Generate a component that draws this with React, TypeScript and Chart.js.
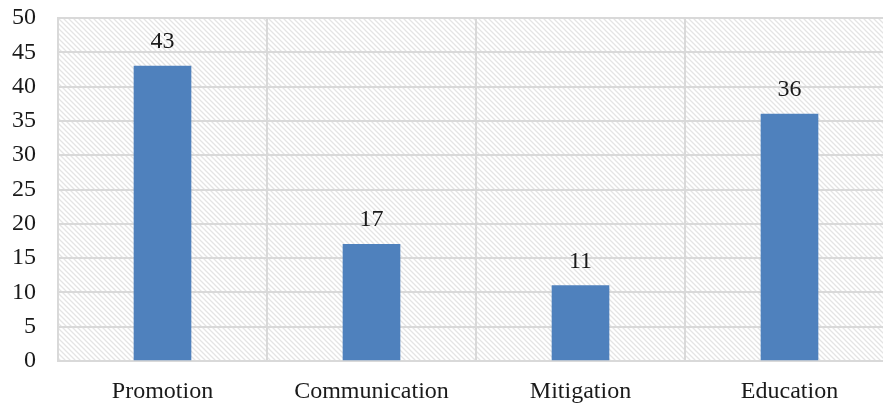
import React, { useEffect, useRef } from "react";
import { Chart, registerables } from "chart.js";

Chart.register(...registerables);

const categories = ["Promotion", "Communication", "Mitigation", "Education"];
const values = [43, 17, 11, 36];
const yTicks = [0, 5, 10, 15, 20, 25, 30, 35, 40, 45, 50];

function makePattern(): CanvasPattern | string {
  const s = 5;
  const c = document.createElement("canvas");
  c.width = s;
  c.height = s;
  const g = c.getContext("2d");
  if (!g) return "#ffffff";
  g.fillStyle = "#ffffff";
  g.fillRect(0, 0, s, s);
  g.strokeStyle = "#e4e4e4";
  g.lineWidth = 1.3;
  g.beginPath();
  g.moveTo(-1, -1);
  g.lineTo(s + 1, s + 1);
  g.moveTo(-1, s - 1);
  g.lineTo(1, s + 1);
  g.moveTo(s - 1, -1);
  g.lineTo(s + 1, 1);
  g.stroke();
  const p = g.createPattern(c, "repeat");
  return p || "#ffffff";
}

const hatchPlugin = {
  id: "hatchBg",
  beforeDraw(chart: any) {
    const { ctx, chartArea } = chart;
    if (!chartArea) return;
    ctx.save();
    ctx.fillStyle = makePattern();
    ctx.fillRect(chartArea.left, chartArea.top, chartArea.right - chartArea.left, chartArea.bottom - chartArea.top);
    ctx.restore();
  },
};

const labelPlugin = {
  id: "valueLabels",
  afterDatasetsDraw(chart: any) {
    const { ctx } = chart;
    const meta = chart.getDatasetMeta(0);
    ctx.save();
    ctx.font = '24px "Liberation Serif"';
    ctx.fillStyle = "#1a1a1a";
    ctx.textAlign = "center";
    ctx.textBaseline = "alphabetic";
    meta.data.forEach((el: any, i: number) => {
      ctx.fillText(String(values[i]), el.x, el.y - 18);
    });
    ctx.restore();
  },
};

export default function App() {
  const ref = useRef<HTMLCanvasElement | null>(null);
  useEffect(() => {
    if (!ref.current) return;
    const chart = new Chart(ref.current, {
      type: "bar",
      data: {
        labels: categories,
        datasets: [
          {
            data: values,
            backgroundColor: "#4f81bd",
            barThickness: 57,
          },
        ],
      },
      options: {
        animation: false,
        responsive: false,
        maintainAspectRatio: false,
        layout: { padding: { top: 18, right: 0, bottom: 0, left: 0 } },
        plugins: { legend: { display: false }, tooltip: { enabled: false } },
        scales: {
          x: {
            grid: { color: "#d9d9d9", lineWidth: 2, offset: true, drawTicks: false },
            border: { color: "#d9d9d9", width: 2 },
            ticks: {
              color: "#1a1a1a",
              font: { family: "Liberation Serif", size: 24 },
              padding: 16,
            },
            afterFit: (s: any) => {
              s.height = 44;
            },
          },
          y: {
            min: 0,
            max: 50,
            afterBuildTicks: (s: any) => {
              s.ticks = yTicks.map((v) => ({ value: v }));
            },
            grid: {
              color: "#d9d9d9",
              lineWidth: 2,
              drawTicks: true,
              tickLength: 22,
              tickColor: "rgba(0,0,0,0)",
            },
            border: { color: "#d9d9d9", width: 2 },
            ticks: {
              color: "#1a1a1a",
              font: { family: "Liberation Serif", size: 24 },
              padding: 0,
            },
            afterFit: (s: any) => {
              s.width = 58;
            },
          },
        },
      },
      plugins: [hatchPlugin, labelPlugin],
    });
    return () => chart.destroy();
  }, []);
  return (
    <div style={{ position: "fixed", left: 0, top: 0, width: 883, height: 405, overflow: "hidden", background: "#fff" }}>
      <canvas ref={ref} width={894} height={405} style={{ display: "block", width: 894, height: 405 }} />
    </div>
  );
}
